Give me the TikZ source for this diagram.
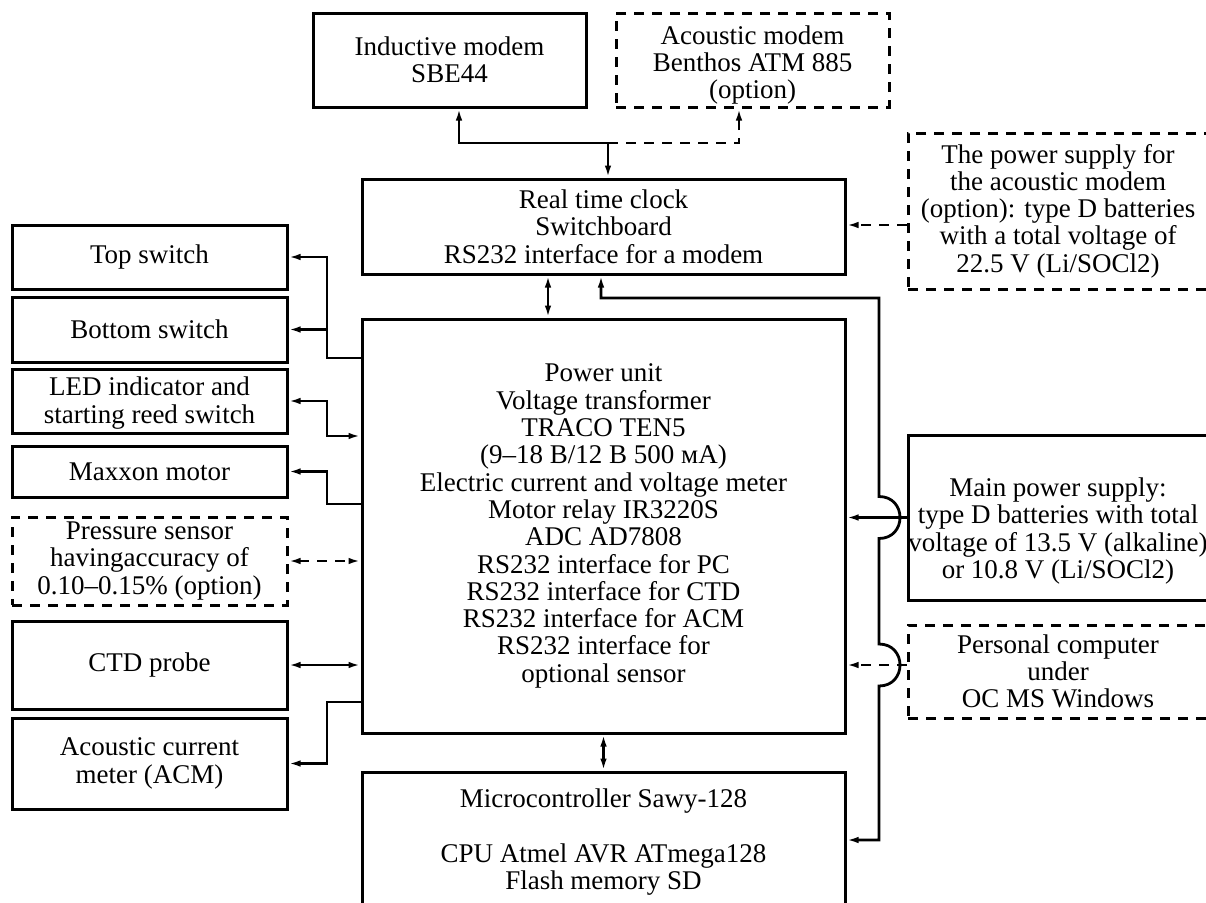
\documentclass[tikz,border=0pt]{standalone}
\usepackage{fontspec}
\setmainfont{Liberation Serif}
\usetikzlibrary{arrows.meta,calc}
\begin{document}
\begin{tikzpicture}[x=1pt,y=-1pt,
  txt/.style={align=center,inner sep=0pt,font=\fontsize{27}{27.3}\selectfont},
  box/.style={txt,draw,line width=3pt},
  dbox/.style={box,dash pattern=on 10pt off 8pt},
  conn/.style={line width=2.8pt},
  dconn/.style={conn,dash pattern=on 10pt off 8pt},
  >={Latex[length=12pt,width=6.5pt]}]
\useasboundingbox (0,0) rectangle (1206,902);
\clip (0,0) rectangle (1206,902);
% top
\node[box,minimum width=273pt,minimum height=94pt] (indm) at (449.5,60) {Inductive modem\\SBE44};
\node[dbox,minimum width=273pt,minimum height=94pt] (acmod) at (752.5,60) {};
\node[txt] (acmodtxt) at (752.5,65) {Acoustic modem\\Benthos ATM 885\\(option)};
\node[box,minimum width=483pt,minimum height=95pt] (rtc) at (603.5,226.5) {Real time clock\\Switchboard\\RS232 interface for a modem};
\node[box,minimum width=483pt,minimum height=414pt] (main) at (603.5,526) {Power unit\\Voltage transformer\\TRACO TEN5\\(9–18 В/12 В 500 мА)\\Electric current and voltage meter\\Motor relay IR3220S\\ADC AD7808\\RS232 interface for PC\\RS232 interface for CTD\\RS232 interface for ACM\\RS232 interface for\\optional sensor};
\node[box,minimum width=483pt,minimum height=188pt] (micro) at (603.5,866) {};
\node[txt,anchor=north] (microtxt) at (603.5,789) {Microcontroller Sawy-128\\[27pt]CPU Atmel AVR ATmega128\\Flash memory SD};
% right
\node[dbox,minimum width=300pt,minimum height=156pt] (psac) at (1058,211) {The power supply for\\the acoustic modem\\(option): type D batteries\\with a total voltage of\\22.5 V (Li/SOCl2)};
\node[box,minimum width=300pt,minimum height=165pt] (mps) at (1058,517.5) {};
\node[txt] (mpstxt) at (1058,531) {Main power supply:\\type D batteries with total\\voltage of 13.5 V (alkaline)\\or 10.8 V (Li/SOCl2)};
\node[dbox,minimum width=300pt,minimum height=93pt] (pc) at (1058,671.5) {Personal computer\\under\\OC MS Windows};
% left
\node[box,minimum width=275pt,minimum height=64pt] (top) at (149.5,257) {Top switch};
\node[box,minimum width=275pt,minimum height=65pt] (bottom) at (149.5,329.5) {Bottom switch};
\node[box,minimum width=275pt,minimum height=64pt] (led) at (149.5,401) {};
\node[txt] (ledtxt) at (149.5,403) {LED indicator and\\starting reed switch};
\node[box,minimum width=275pt,minimum height=51pt] (maxx) at (149.5,471.5) {Maxxon motor};
\node[dbox,minimum width=275pt,minimum height=88pt] (pres) at (149.5,561) {Pressure sensor\\havingaccuracy of\\0.10–0.15\% (option)};
\node[box,minimum width=275pt,minimum height=88pt] (ctd) at (149.5,665) {CTD probe};
\node[box,minimum width=275pt,minimum height=91pt] (acm) at (149.5,763.5) {Acoustic current\\meter (ACM)};
% helper coordinates
\coordinate (j1) at (608,143);
\coordinate (ypsac) at (0,225);
\coordinate (r1) at (879,298);
\coordinate (ymc) at (0,840);
\coordinate (ypc) at (0,665);
\coordinate (jt) at (327,358);
\coordinate (jl) at (327,436);
\coordinate (jm) at (327,504);
\coordinate (ja) at (327,702);
% top connectors
\draw[conn,->] (j1) -| ($(indm.south)+(9.5,0)$);
\draw[conn,->] (j1) -- (j1 |- rtc.north);
\draw[dconn,->] (j1) -| ($(acmod.south)+(-13.5,0)$);
\draw[dconn,->] (psac.west |- ypsac) -- (rtc.east |- ypsac);
\draw[conn,<->] ($(rtc.south)+(-55.5,0)$) -- ($(main.north)+(-55.5,0)$);
\draw[conn,<->] (main.south) -- (micro.north);
% long right line with jumps
\draw[conn,<->] ($(rtc.south)+(-2.5,0)$) |- (r1) -- (879,496.5)
  .. controls (907,496.5) and (907,538.5) .. (879,538.5) -- (879,644)
  .. controls (907,644) and (907,686) .. (879,686) -- (879,840) -- (micro.east |- ymc);
\draw[conn,->] (mps.west) -- (mps.west -| main.east);
\draw[dconn,->] (pc.west |- ypc) -- (main.east |- ypc);
% left connectors
\draw[conn,->] (main.west |- jt) -- (jt) |- (top.east);
\draw[conn,->] (jt |- bottom.east) -- (bottom.east);
\draw[conn,<->] (led.east) -| (jl) -- (main.west |- jl);
\draw[conn,->] (main.west |- jm) -- (jm) |- (maxx.east);
\draw[dconn,<->] (pres.east) -- (main.west |- pres.east);
\draw[conn,<->] (ctd.east) -- (main.west |- ctd.east);
\draw[conn,->] (main.west |- ja) -- (ja) |- (acm.east);
\end{tikzpicture}
\end{document}
